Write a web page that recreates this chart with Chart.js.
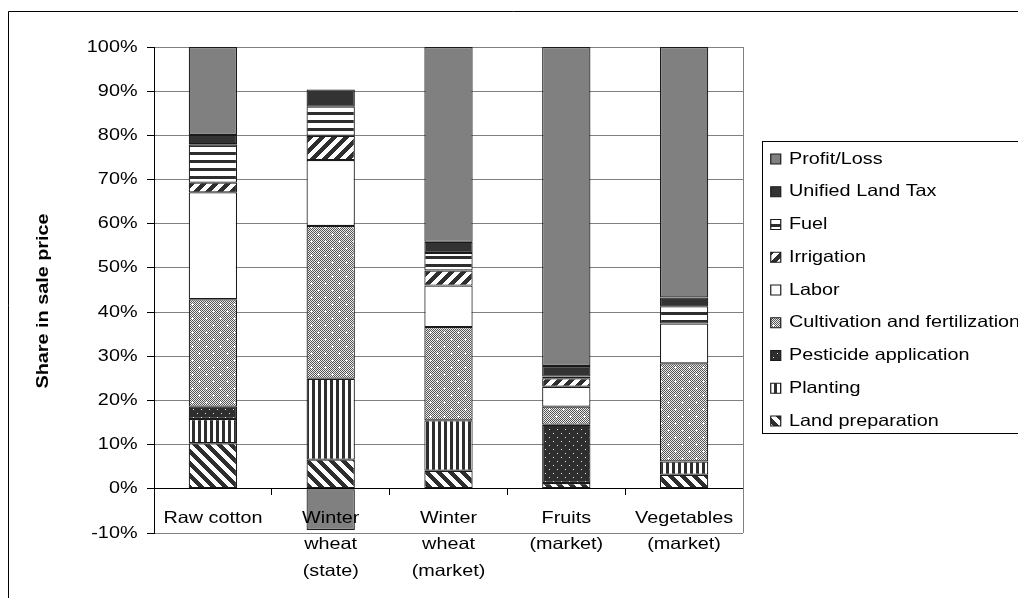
<!DOCTYPE html>
<html>
<head>
<meta charset="utf-8">
<script src="https://cdn.jsdelivr.net/npm/chart.js@4.4.1/dist/chart.umd.min.js"></script>
<style>
  html, body { margin: 0; padding: 0; background: #fff; overflow: hidden; }
  canvas { display: block; }
</style>
</head>
<body>
<canvas id="c" width="1018" height="598"></canvas>
<script>
// Cost structure of crops, as a share of the sale price (%)
const categories = ['Raw cotton', ['Winter', 'wheat', '(state)'], ['Winter', 'wheat', '(market)'], ['Fruits', '(market)'], ['Vegetables', '(market)']];

const landPreparation = [10.3, 6.6, 4.1, 1.3, 3.2];
const planting        = [5.5, 18.3, 11.4, 0, 3.0];
const pesticide       = [2.8, 0, 0, 13.2, 0];
const cultivation     = [24.3, 34.6, 21.1, 4.1, 22.2];
const labor           = [24.2, 14.9, 9.4, 4.5, 9.0];
const irrigation      = [2.2, 5.5, 3.4, 1.9, 0];
const fuel            = [8.7, 6.6, 4.0, 0.4, 3.9];
const landTax         = [2.1, 3.9, 2.5, 2.4, 2.0];
const profitLoss      = [19.9, -9.3, 44.1, 72.2, 56.7];

const yMin = -10, yMax = 100, yStep = 10;
const yTitle = 'Share in sale price';

const canvas = document.getElementById('c');
const ctx = canvas.getContext('2d');

// Wide type: glyphs are drawn stretched horizontally along the text direction
const TEXT_SX = 1.2;
const nativeFill = ctx.fillText.bind(ctx);
const nativeMeasure = ctx.measureText.bind(ctx);
ctx.fillText = function (t, x, y, maxW) {
  this.save();
  this.translate(x, y);
  this.scale(TEXT_SX, 1);
  if (maxW === undefined || maxW === null) nativeFill(t, 0, 0);
  else nativeFill(t, 0, 0, maxW / TEXT_SX);
  this.restore();
};
ctx.measureText = function (t) {
  const m = nativeMeasure(t);
  return {
    width: m.width * TEXT_SX,
    actualBoundingBoxLeft: m.actualBoundingBoxLeft * TEXT_SX,
    actualBoundingBoxRight: m.actualBoundingBoxRight * TEXT_SX,
    actualBoundingBoxAscent: m.actualBoundingBoxAscent,
    actualBoundingBoxDescent: m.actualBoundingBoxDescent,
    fontBoundingBoxAscent: m.fontBoundingBoxAscent,
    fontBoundingBoxDescent: m.fontBoundingBoxDescent
  };
};

// Monochrome fill patterns
const DARK = '#2e2e2e';
function tile(w, h, fn) {
  const c = document.createElement('canvas');
  c.width = w; c.height = h;
  const g = c.getContext('2d');
  for (let y = 0; y < h; y++) {
    for (let x = 0; x < w; x++) {
      g.fillStyle = fn(x, y);
      g.fillRect(x, y, 1, 1);
    }
  }
  return ctx.createPattern(c, 'repeat');
}
const patLandPrep = tile(12, 12, (x, y) => ((((x - y) % 12) + 12) % 12 < 6 ? DARK : '#fff'));
const patIrrigation = tile(12, 12, (x, y) => ((x + y) % 12 < 6 ? DARK : '#fff'));
const patPlanting = tile(6, 6, (x, y) => (x % 6 < 3 ? DARK : '#fff'));
const patFuel = tile(8, 8, (x, y) => (y % 8 < 3 ? DARK : '#fff'));
const patPesticide = tile(8, 8, (x, y) => ((x === 1 && y === 1) || (x === 5 && y === 5) ? '#e6e6e6' : DARK));
const crosses = [[3, 3], [10, 10]];
const patCultivation = tile(14, 14, (x, y) => {
  for (const [cx, cy] of crosses) {
    if ((x === cx && Math.abs(y - cy) <= 1) || (y === cy && Math.abs(x - cx) <= 1)) return '#fff';
  }
  return (x + y) % 2 === 0 ? '#555' : '#ececec';
});

const BORDER = '#1a1a1a';
function series(label, data, fill) {
  return {
    label, data,
    backgroundColor: fill,
    borderColor: BORDER,
    borderWidth: 1.2,
    borderSkipped: false,
    barPercentage: 0.41,
    categoryPercentage: 1.0
  };
}

const datasets = [
  series('Land preparation', landPreparation, patLandPrep),
  series('Planting', planting, patPlanting),
  series('Pesticide application', pesticide, patPesticide),
  series('Cultivation and fertilization', cultivation, patCultivation),
  series('Labor', labor, '#ffffff'),
  series('Irrigation', irrigation, patIrrigation),
  series('Fuel', fuel, patFuel),
  series('Unified Land Tax', landTax, '#333333'),
  series('Profit/Loss', profitLoss, '#808080')
];

const FONT = "'Liberation Sans', Arial, Helvetica, sans-serif";
Chart.defaults.font.family = FONT;
Chart.defaults.font.size = 16.5;
Chart.defaults.color = '#000';

const LEGEND_PAD = 16.25;

// Frame of the chart, right edge of the plot area and the legend box
const framePlugin = {
  id: 'frame',
  afterLayout(chart) {
    const lg = chart.legend;
    if (!lg) return;
    lg.left = chart.chartArea.right + 11.5;
    lg.width = 420;
    lg.right = lg.left + lg.width;
  },
  beforeDatasetsDraw(chart) {
    const { ctx: g, chartArea: a } = chart;
    g.save();
    g.strokeStyle = '#808080';
    g.lineWidth = 1;
    const x = Math.round(a.right) + 0.5;
    g.beginPath();
    g.moveTo(x, a.top);
    g.lineTo(x, a.bottom);
    g.stroke();
    g.restore();
  },
  afterDraw(chart) {
    const g = chart.ctx;
    const lg = chart.legend;
    g.save();
    g.strokeStyle = '#000';
    g.lineWidth = 1;
    g.beginPath();
    g.moveTo(8.5, chart.height + 2);
    g.lineTo(8.5, 11.5);
    g.lineTo(chart.width + 2, 11.5);
    g.stroke();
    if (lg) {
      const n = chart.data.datasets.length;
      const fs = 16.5;
      const colH = n * (fs + LEGEND_PAD);
      const colTop = (lg.top + LEGEND_PAD + lg.bottom - colH) / 2;
      const top = Math.round(colTop - 9.75) + 0.5;
      const bottom = Math.round(colTop + colH - LEGEND_PAD + 4) + 0.5;
      g.strokeRect(Math.round(lg.left + 7) + 0.5, top, 1000, bottom - top);
    }
    g.restore();
  }
};

new Chart(ctx, {
  type: 'bar',
  data: { labels: categories, datasets },
  plugins: [framePlugin],
  options: {
    responsive: false,
    animation: false,
    devicePixelRatio: 1,
    events: [],
    layout: { padding: { left: 20, top: 47, right: 75, bottom: 65 } },
    plugins: {
      tooltip: { enabled: false },
      legend: {
        position: 'right',
        align: 'center',
        reverse: true,
        maxWidth: 200,
        labels: {
          boxWidth: 10,
          boxHeight: 10,
          padding: LEGEND_PAD,
          color: '#000',
          font: { size: 16.5, family: FONT }
        }
      }
    },
    scales: {
      x: {
        stacked: true,
        position: { y: 0 },
        offset: true,
        grid: {
          display: true,
          offset: true,
          drawOnChartArea: false,
          drawTicks: true,
          tickLength: 6,
          tickColor: '#000',
          color: '#000',
          lineWidth: 1
        },
        border: { display: true, color: '#000', width: 1 },
        ticks: {
          z: 1,
          autoSkip: false,
          maxRotation: 0,
          minRotation: 0,
          padding: 10,
          color: '#000',
          font: { size: 16.5, family: FONT, lineHeight: 1.62 }
        }
      },
      y: {
        stacked: true,
        min: yMin,
        max: yMax,
        afterFit(scale) { scale.width = 134; },
        grid: {
          color: '#808080',
          lineWidth: 1,
          drawTicks: true,
          tickLength: 7,
          tickColor: '#000'
        },
        border: { display: true, color: '#000', width: 1 },
        ticks: {
          stepSize: yStep,
          padding: 9.5,
          color: '#000',
          font: { size: 16.5, family: FONT },
          callback: (v) => v + '%'
        },
        title: {
          display: true,
          text: yTitle + '\u00a0\u00a0\u00a0\u00a0',
          color: '#000',
          font: { size: 16.5, weight: 'bold', family: FONT, lineHeight: 1.2 },
          padding: { top: 14, bottom: 0 }
        }
      }
    }
  }
});
</script>
</body>
</html>
